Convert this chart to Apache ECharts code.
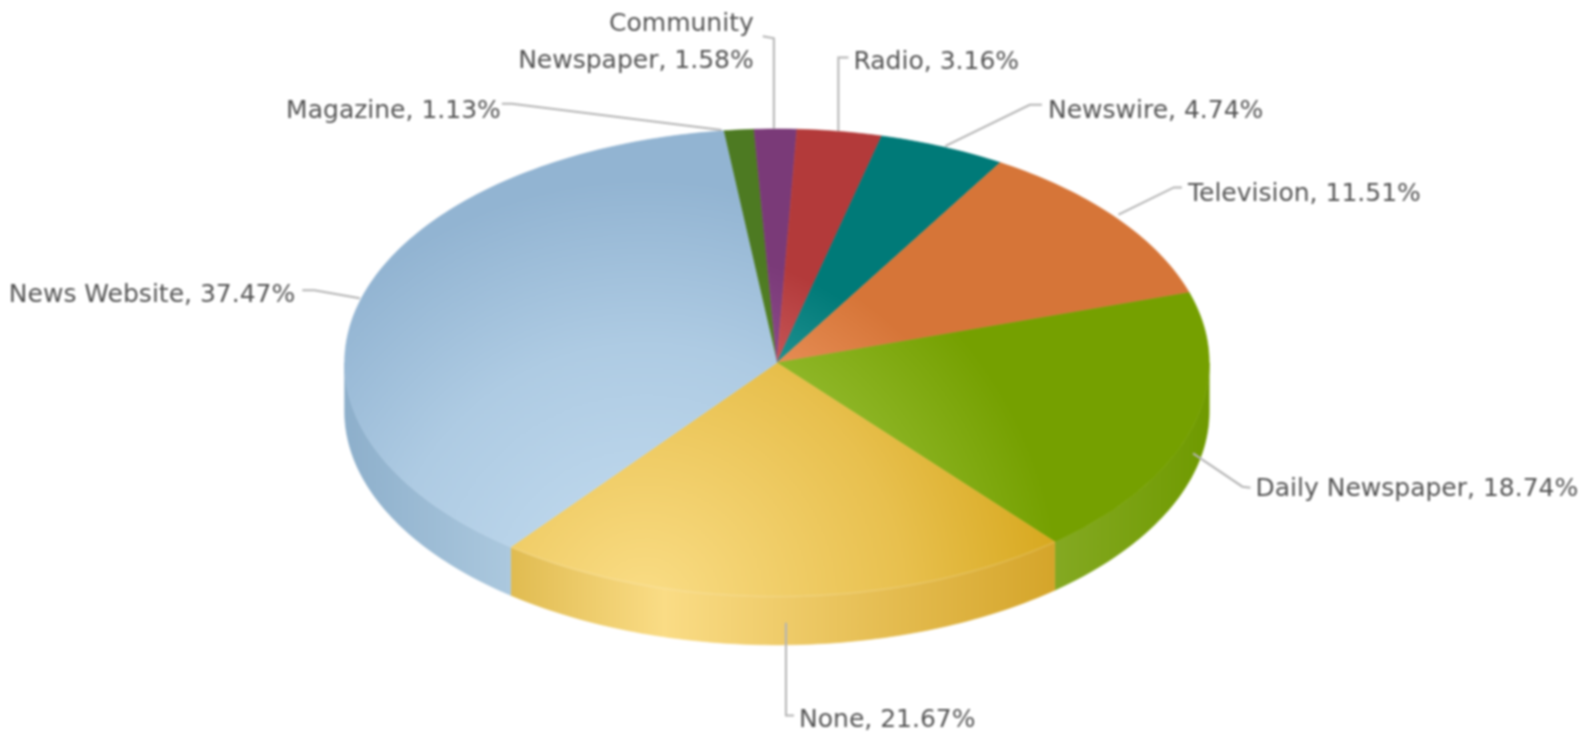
<!DOCTYPE html>
<html><head><meta charset="utf-8">
<style>html,body{margin:0;padding:0;background:#fff}#c{width:1580px;height:736px;filter:blur(0.9px)}</style>
<script src="https://cdn.jsdelivr.net/npm/echarts@6/dist/echarts.min.js"></script>
</head><body><div id="c"></div>
<script>
const categories = ['Magazine','Community Newspaper','Radio','Newswire','Television','Daily Newspaper','None','News Website'];
const shares = [1.13,1.58,3.16,4.74,11.51,18.74,21.67,37.47];

const topStops = [
  ['#5a8a2c','#568426','#4d7a22'],
  ['#9a5a98','#8e4c8c','#7a3a78'],
  ['#d86a68','#c85a5c','#b33a3a'],
  ['#30a0a0','#249494','#007a78'],
  ['#f09a62','#e89058','#d67538'],
  ['#a4c640','#90b82a','#75a000'],
  ['#fadd86','#e8c04e','#d5a518'],
  ['#c6def1','#aecbe3','#92b4d2']
];
const baseAt = [0.7,0.7,0.7,0.7,0.72,0.8,0.84,0.82];
const sideStops = [
  ['#4d7a22','#4d7a22','#4d7a22'],
  ['#7a3a78','#7a3a78','#7a3a78'],
  ['#b33a3a','#b33a3a','#b33a3a'],
  ['#007a78','#007a78','#007a78'],
  ['#d67538','#d67538','#d67538'],
  ['#84a922','#84a91e','#6f9a00'],
  ['#dfb94e','#fadc85','#d5a52a'],
  ['#8dafcb','#abc8de','#abc8de']
];
// label layout: leader polyline and text anchor, one row per category
const leaders = [
  [[716,129],[508,103],[498,103]],
  [[768,128],[768,38],[757,36]],
  [[832,130],[832,57],[842,57]],
  [[938,145],[1022,104],[1034,104]],
  [[1110,213],[1165,186],[1173,186]],
  [[1184,450],[1233,483],[1241,484]],
  [[780,618],[780,710],[788,710]],
  [[357,296],[312,288],[300,288]]
];
const labelPos = [
  [497,111,'right'],[748,43,'right'],[847,62,'left'],[1040,111,'left'],
  [1179,193,'left'],[1246,486,'left'],[793,715,'left'],[293,293,'right']
];

const S=1580/1568;
const CX=771*S, CY=360*S, RX=429*S, RY=232*S, DEPTH=48*S, START=-7.1;
const rad=d=>d*Math.PI/180;
const pt=(deg,dy)=>[CX+RX*Math.sin(rad(deg)), CY-RY*Math.cos(rad(deg))+(dy||0)];
function arc(a,b,dy){const out=[];const n=Math.max(2,Math.ceil(Math.abs(b-a)));for(let k=0;k<=n;k++){out.push(pt(a+(b-a)*k/n,dy));}return out;}

const total=shares.reduce((s,v)=>s+v,0);
function angles(i){let s=START;for(let k=0;k<i;k++)s+=shares[k]/total*360;return [s,s+shares[i]/total*360];}

function renderItem(params,api){
  const i=api.value(0), v=api.value(1);
  const [a,b]=angles(i);
  const children=[];
  const visA=Math.max(a,90), visB=Math.min(b,270);
  if(visB>visA){
    const s=sideStops[i];
    const fill={type:'linear',x:342*S,y:0,x2:1200*S,y2:0,global:true,colorStops:
      i===7?[{offset:0,color:s[0]},{offset:0.19,color:s[1]},{offset:1,color:s[2]}]
      :i===6?[{offset:0,color:'#dfb94e'},{offset:0.19,color:'#e0bb50'},{offset:0.37,color:s[1]},{offset:0.82,color:s[2]},{offset:1,color:s[2]}]
      :[{offset:0,color:s[0]},{offset:0.82,color:s[0]},{offset:1,color:s[2]}]};
    children.push({type:'polygon',shape:{points:arc(visA,visB,0).concat(arc(visB,visA,DEPTH))},
      style:{fill:fill,stroke:fill,lineWidth:0.6}});
  }
  const t=topStops[i];
  const topFill={type:'radial',x:640*S,y:600*S,r:520,global:true,colorStops:[
    {offset:0,color:t[0]},{offset:0.5,color:t[1]},{offset:baseAt[i],color:t[2]},{offset:1,color:t[2]}]};
  children.push({type:'polygon',shape:{points:[[CX,CY]].concat(arc(a,b,0))},
    style:{fill:topFill,stroke:topFill,lineWidth:0.6}});
  if(i===6){
    children.push({type:'polyline',shape:{points:arc(visA,visB,0)},z2:4,
      style:{fill:'none',stroke:'rgba(255,255,255,0.1)',lineWidth:2}});
  }
  children.push({type:'polyline',shape:{points:leaders[i].map(p=>[p[0]*S,p[1]*S])},z2:5,
    style:{fill:'none',stroke:'#b4b4b4',lineWidth:2}});
  const p=labelPos[i];
  const text=categories[i]==='Community Newspaper'?'Community\nNewspaper, '+v.toFixed(2)+'%':categories[i]+', '+v.toFixed(2)+'%';
  children.push({type:'text',z2:6,style:{text:text,x:p[0]*S,y:p[1]*S,
    align:p[2],verticalAlign:'middle',
    font:'25px "DejaVu Sans"',fill:'#555555',lineHeight:37}});
  return {type:'group',children:children};
}

const chart=echarts.init(document.getElementById('c'),null,{width:1580,height:736});
chart.setOption({
  animation:false,
  backgroundColor:'#ffffff',
  series:[{type:'custom',coordinateSystem:'none',silent:true,
    data:categories.map((c,i)=>({name:c,value:[i,shares[i]]})),
    encode:{value:1,itemName:0},
    renderItem:renderItem}]
});
</script></body></html>
